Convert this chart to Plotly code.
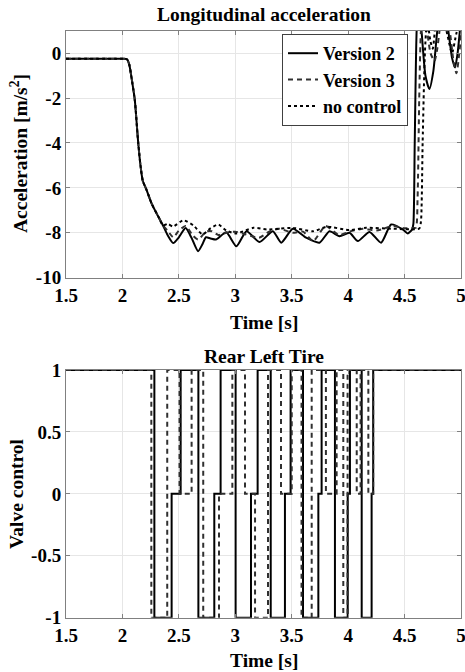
import plotly.graph_objects as go

# ---------------- data: longitudinal acceleration ----------------
common_t = [1.5, 2.00, 2.04, 2.06, 2.09, 2.11, 2.14, 2.16, 2.18, 2.21, 2.26, 2.32, 2.36]
common_a = [-0.25, -0.25, -0.27, -0.5, -1.4, -2.1, -4.0, -5.0, -5.68, -6.04, -6.71, -7.3, -7.68]

v2_t = common_t + [2.40, 2.45, 2.50, 2.56, 2.61, 2.67, 2.71, 2.74, 2.78, 2.83, 2.92, 3.01, 3.10,
                   3.215, 3.333, 3.407, 3.51, 3.628, 3.746, 3.835, 3.923, 4.012, 4.086, 4.189,
                   4.292, 4.381, 4.484, 4.528, 4.566, 4.578, 4.59, 4.607, 4.625, 4.65, 4.685,
                   4.72, 4.755, 4.79, 4.83, 4.887, 4.92, 4.947, 4.97, 4.99, 5.0]
v2_a = common_a + [-8.1, -8.46, -8.2, -7.79, -8.2, -8.82, -8.5, -8.2, -8.25, -8.3, -7.98, -8.6, -7.93,
                   -8.41, -7.93, -8.44, -7.82, -8.22, -8.44, -7.93, -8.15, -8.0, -8.37, -7.96,
                   -8.44, -7.63, -7.85, -8.03, -7.85, -7.6, -4.0, 1.0, 2.2, 1.0, -1.0,
                   -1.6, -0.8, 1.0, 2.3, 1.0, -0.2, -0.64, 0.0, 1.0, 1.5]

v3_t = common_t + [2.40, 2.45, 2.50, 2.56, 2.62, 2.67, 2.74, 2.79, 2.85, 2.92, 3.0, 3.08, 3.21,
                   3.30, 3.39, 3.51, 3.60, 3.69, 3.80, 3.92, 4.01, 4.13, 4.25, 4.40, 4.50, 4.57,
                   4.60, 4.615, 4.63, 4.645, 4.67, 4.70, 4.73, 4.765, 4.79, 4.81, 4.85, 4.90,
                   4.935, 4.96, 4.985, 5.0]
v3_a = common_a + [-7.9, -8.2, -7.9, -7.7, -8.1, -8.3, -7.95, -7.93, -8.1, -8.0, -7.95, -8.05, -8.22,
                   -7.95, -7.82, -8.0, -7.95, -8.37, -7.7, -8.1, -7.95, -7.82, -7.9, -7.7, -7.8, -7.78,
                   -7.78, -6.5, -2.0, 1.0, 2.2, 1.0, 0.0, -0.35, 0.2, 1.0, 2.2, 1.0,
                   -0.4, -0.9, 0.0, 0.8]

nc_t = common_t + [2.40, 2.45, 2.54, 2.63, 2.71, 2.78, 2.85, 2.92, 3.01, 3.16, 3.28, 3.39, 3.51,
                   3.69, 3.81, 4.01, 4.16, 4.40, 4.63, 4.645, 4.66, 4.68, 4.70, 4.73, 4.75,
                   4.78, 4.82, 4.88, 4.92, 4.96, 5.00]
nc_a = common_a + [-7.6, -7.72, -7.44, -7.68, -8.07, -7.8, -7.63, -7.9, -8.03, -7.78, -7.85, -7.82, -7.78,
                   -7.93, -7.73, -7.88, -7.78, -7.82, -7.81, -7.5, -4.0, 0.0, 1.5, 0.5, 0.2,
                   1.5, 2.0, 0.8, 0.0, 0.9, 1.5]

# ---------------- data: valve control (step changes) ----------------
valve_v2_t = [1.5, 2.283, 2.436, 2.516, 2.673, 2.814, 2.870, 3.003, 3.139, 3.198, 3.314, 3.440,
              3.490, 3.600, 3.736, 3.765, 3.883, 3.996, 4.016, 4.120, 4.208, 4.222, 5.0]
valve_v2 = [1, -1, 0, 1, -1, 0, 1, -1, 0, 1, -1, 0,
            1, -1, 0, 1, -1, 0, 1, -1, 0, 1, 1]

valve_v3_t = [1.5, 2.256, 2.397, 2.506, 2.613, 2.716, 2.856, 2.974, 3.086, 3.175, 3.290, 3.405,
              3.500, 3.587, 3.677, 3.803, 3.898, 3.957, 3.995, 4.076, 4.110, 4.179, 4.222, 5.0]
valve_v3 = [1, -1, 1, 0, 1, -1, 0, 1, 0, -1, 1, 0,
            1, -1, 1, 0, 1, -1, 1, 0, 1, 0, 1, 1]

x_ticks = [1.5, 2, 2.5, 3, 3.5, 4, 4.5, 5]
x_ticktext = ["1.5", "2", "2.5", "3", "3.5", "4", "4.5", "5"]
acc_ticks = [-10, -8, -6, -4, -2, 0]
acc_ticktext = ["-10", "-8", "-6", "-4", "-2", "0"]
valve_ticks = [-1, -0.5, 0, 0.5, 1]
valve_ticktext = ["-1", "-0.5", "0", "0.5", "1"]

# ---------------- figure ----------------
W, H = 465, 672
FONT = "Liberation Serif"

def px_x(p):
    return p / W

def px_y(p):
    return 1 - p / H

fig = go.Figure()
fig.add_trace(go.Scatter(x=v2_t, y=v2_a, mode="lines", name="Version 2",
                         line=dict(color="black", width=2, shape="spline", smoothing=0.6),
                         xaxis="x", yaxis="y"))
fig.add_trace(go.Scatter(x=v3_t, y=v3_a, mode="lines", name="Version 3",
                         line=dict(color="#303030", width=2, dash="5px,4px", shape="spline", smoothing=0.6),
                         xaxis="x", yaxis="y"))
fig.add_trace(go.Scatter(x=nc_t, y=nc_a, mode="lines", name="no control",
                         line=dict(color="black", width=2, dash="dot", shape="spline", smoothing=0.6),
                         xaxis="x", yaxis="y"))

fig.add_trace(go.Scatter(x=valve_v2_t, y=valve_v2, mode="lines", name="Version 2",
                         line=dict(color="black", width=2, shape="hv"), showlegend=False,
                         xaxis="x2", yaxis="y2"))
fig.add_trace(go.Scatter(x=valve_v3_t, y=valve_v3, mode="lines", name="Version 3",
                         line=dict(color="#303030", width=2, dash="5px,4px", shape="hv"), showlegend=False,
                         xaxis="x2", yaxis="y2"))

axis_common = dict(showgrid=True, gridcolor="#e6e6e6", gridwidth=1,
                   showline=True, linecolor="#808080", linewidth=1, mirror="ticks",
                   ticks="inside", ticklen=4, tickcolor="#808080",
                   zeroline=False, automargin=False, ticklabeloverflow="allow",
                   tickfont=dict(family=FONT, size=19, color="black", weight="bold"))

xdom = [px_x(66), px_x(461)]
fig.update_layout(
    width=W, height=H,
    margin=dict(l=0, r=0, t=0, b=0, autoexpand=False),
    paper_bgcolor="white", plot_bgcolor="white",
    xaxis=dict(domain=xdom, range=[1.5, 5], tickvals=x_ticks, ticktext=x_ticktext,
               anchor="y", **axis_common),
    yaxis=dict(domain=[px_y(277.7), px_y(30.7)], range=[-10, 1], tickvals=acc_ticks,
               ticktext=acc_ticktext, anchor="x", **axis_common),
    xaxis2=dict(domain=xdom, range=[1.5, 5], tickvals=x_ticks, ticktext=x_ticktext,
                anchor="y2", **axis_common),
    yaxis2=dict(domain=[px_y(617.7), px_y(370)], range=[-1, 1], tickvals=valve_ticks,
                ticktext=valve_ticktext, anchor="x2", **axis_common),
    showlegend=True,
    legend=dict(x=px_x(282), y=px_y(34), xanchor="left", yanchor="top",
                bgcolor="white", bordercolor="#404040", borderwidth=1,
                font=dict(family=FONT, size=18, color="black", weight="bold"),
                tracegroupgap=0, itemwidth=30),
)

title_font = dict(family=FONT, size=19.5, color="black", weight="bold")
cx = px_x((66 + 461) / 2)
ann = [
    dict(text="Longitudinal acceleration", x=cx, y=px_y(14)),
    dict(text="Time [s]", x=cx, y=px_y(322)),
    dict(text="Rear Left Tire", x=cx, y=px_y(356)),
    dict(text="Time [s]", x=cx, y=px_y(660)),
]
for a in ann:
    fig.add_annotation(xref="paper", yref="paper", showarrow=False,
                       xanchor="center", yanchor="middle", font=title_font, **a)
fig.add_annotation(text="Acceleration [m/s<sup>2</sup>]", xref="paper", yref="paper",
                   x=px_x(19), y=px_y(154), textangle=-90, showarrow=False,
                   xanchor="center", yanchor="middle", font=title_font)
fig.add_annotation(text="Valve control", xref="paper", yref="paper",
                   x=px_x(16), y=px_y(494), textangle=-90, showarrow=False,
                   xanchor="center", yanchor="middle", font=title_font)

fig.write_html("out.html", config={"displayModeBar": False},
               post_script="document.body.style.margin='0';document.body.style.overflow='hidden';")
